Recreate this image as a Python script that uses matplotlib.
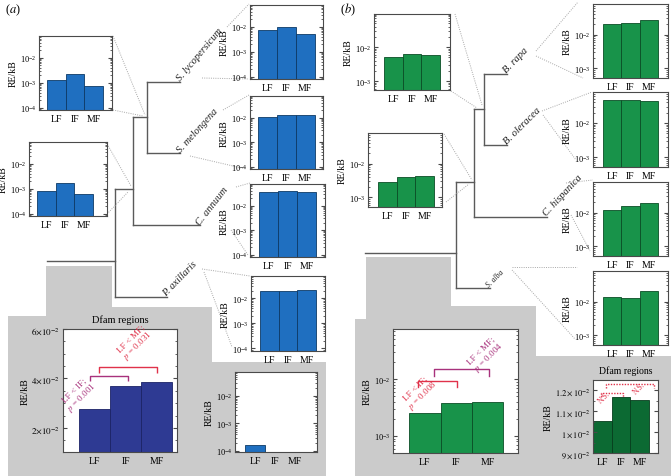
import numpy as np
import matplotlib.pyplot as plt
from matplotlib.ticker import LogLocator, NullFormatter, FixedLocator, MultipleLocator
from matplotlib.patches import Polygon

plt.rcParams['font.family'] = ['Liberation Serif', 'DejaVu Serif']
plt.rcParams['mathtext.fontset'] = 'stix'

# ───────── DATA ─────────
cats = ['LF', 'IF', 'MF']

# (a) Solanaceae, RE/kB per flanking class
a_node_top    = [1.3e-3, 2.3e-3, 7.6e-4]
a_node_mid    = [8.3e-4, 1.7e-3, 6.3e-4]
a_lyc         = [7.6e-3, 9.5e-3, 5.2e-3]
a_mel         = [1.1e-2, 1.3e-2, 1.3e-2]
a_ann         = [3.6e-2, 3.9e-2, 3.5e-2]
a_axi         = [1.9e-2, 1.85e-2, 2.1e-2]
a_root        = [1.66e-4, 0.0, 0.0]
a_dfam        = [2.77e-2, 3.70e-2, 3.86e-2]
a_dfam_ticks  = [0.02, 0.04, 0.06]
a_dfam_labels = [r'$2{\times}10^{-2}$', r'$4{\times}10^{-2}$', r'$6{\times}10^{-2}$']
a_species     = ['S. lycopersicum', 'S. melongena', 'C. annuum', 'P. axillaris']
a_cmp_pairs   = [(0, 1), (0, 2)]
a_cmp_levels  = [4.10e-2, 4.46e-2]
a_cmp_text    = ['LF < IF;\n$p$ = 0.001', 'LF < MF;\n$p$ = 0.031']

# (b) Brassicaceae
b_node_top    = [5.2e-3, 6.4e-3, 6.0e-3]
b_node_mid    = [2.8e-3, 3.9e-3, 4.2e-3]
b_rapa        = [2.1e-2, 2.2e-2, 2.6e-2]
b_oler        = [4.7e-2, 4.6e-2, 4.4e-2]
b_hisp        = [1.2e-2, 1.6e-2, 1.85e-2]
b_alba        = [1.4e-2, 1.3e-2, 2.05e-2]
b_root        = [2.5e-3, 3.8e-3, 4.0e-3]
b_dfam        = [1.052e-2, 1.167e-2, 1.152e-2]
b_dfam_ticks  = [0.009, 0.010, 0.011, 0.012]
b_dfam_labels = [r'$9\times10^{-2}$', r'$1\times10^{-2}$', r'$1.1\times10^{-2}$', r'$1.2\times10^{-2}$']
b_species     = ['B. rapa', 'B. oleracea', 'C. hispanica', 'S. alba']
b_cmp_pairs   = [(0, 1), (0, 2)]
b_cmp_levels  = [9.2e-3, 1.5e-2]
b_cmp_text    = ['LF < IF;\n$p$ = 0.008', 'LF < MF;\n$p$ = 0.004']
b_ns_pairs    = [(0, 1), (0, 2)]
b_ns_levels   = [1.19e-2, 1.233e-2]

# ───────── STYLE ─────────
BLUE, BLUE_EDGE   = '#1f6fc0', '#0e3a66'
NAVY              = '#2e3a93'
GREEN, GREEN_EDGE = '#18934a', '#0b4d26'
DKGREEN           = '#0c6a33'
RED, PURPLE       = '#e0324a', '#a8327c'
GRAY_BG           = '#cbcbcb'
TREE              = '#5a5a5a'
DOT               = '#a8a8a8'

W, H = 671, 477
fig = plt.figure(figsize=(W / 100, H / 100), dpi=100)

bg = fig.add_axes([0, 0, 1, 1])
bg.set_xlim(0, W)
bg.set_ylim(H, 0)
bg.axis('off')


def px_axes(x0, y0, x1, y1):
    return fig.add_axes([x0 / W, 1 - y1 / H, (x1 - x0) / W, (y1 - y0) / H])


def style_frame(ax):
    for s in ax.spines.values():
        s.set_color('#4a4a4a')
        s.set_linewidth(0.8)
    ax.tick_params(axis='x', length=0, labelsize=7, pad=3)
    ax.tick_params(axis='y', which='both', direction='in', right=True,
                   labelsize=6, pad=2, color='#4a4a4a')
    ax.tick_params(axis='y', which='major', length=3)
    ax.tick_params(axis='y', which='minor', length=1.5)
    ax.set_ylabel('RE/kB', fontsize=7, labelpad=1.5)


def log_inset(box, vals, color, edge, ylog, xlim):
    ax = px_axes(*box)
    ax.bar(range(3), vals, width=1.0, color=color, edgecolor=edge, linewidth=0.6)
    ax.set_yscale('log')
    ax.set_ylim(10 ** ylog[0], 10 ** ylog[1])
    ax.set_xlim(*xlim)
    ax.set_xticks(range(3), cats)
    ax.yaxis.set_major_locator(LogLocator(base=10, numticks=10))
    ax.yaxis.set_minor_locator(LogLocator(base=10, subs=np.arange(2, 10), numticks=10))
    ax.yaxis.set_minor_formatter(NullFormatter())
    style_frame(ax)
    return ax


def bracket(ax, x0, x1, y, leg, color, ls='-'):
    ax.plot([x0, x0, x1, x1], [y - leg, y, y, y - leg], color=color, lw=1.0, ls=ls,
            solid_capstyle='butt')


# ─── gray backdrops ───
bg.add_patch(Polygon([(46, 267), (112, 267), (112, 308), (212, 308), (212, 363), (326, 363),
                      (326, 477), (8, 477), (8, 317), (46, 317)],
                     closed=True, facecolor=GRAY_BG, edgecolor='none'))
bg.add_patch(Polygon([(366, 258), (451, 258), (451, 307), (536, 307), (536, 357), (671, 357),
                      (671, 477), (355, 477), (355, 320), (366, 320)],
                     closed=True, facecolor=GRAY_BG, edgecolor='none'))


# ─── trees ───
def clade(x, y_top, y_bot, end_top, end_bot):
    bg.plot([x, x], [y_top, y_bot], color=TREE, lw=1.0)
    bg.plot([x, end_top], [y_top, y_top], color=TREE, lw=1.0)
    bg.plot([x, end_bot], [y_bot, y_bot], color=TREE, lw=1.0)


bg.plot([47, 115], [262, 262], color=TREE, lw=1.0)
clade(115, 190, 298, 133, 167)
clade(133, 118, 226, 147, 200)
clade(147, 83, 154, 180, 180)

bg.plot([365, 456], [254, 254], color=TREE, lw=1.0)
clade(456, 183, 289, 474, 490)
clade(474, 110, 218, 484, 547)
clade(484, 75, 146, 507, 507)

# species labels
a_label_pos = [(182, 83, 50), (182, 155, 48), (202, 227, 52), (168, 298, 46)]
for name, (x, y, r) in zip(a_species, a_label_pos):
    bg.text(x, y, name, rotation=r, rotation_mode='anchor', ha='left', va='bottom',
            fontsize=7.5, style='italic', color='#222222')
b_label_pos = [(508, 75, 46, 7.5), (508, 146, 45, 7.5), (548, 218, 47, 7.5), (490, 289, 45, 5.5)]
for name, (x, y, r, fs) in zip(b_species, b_label_pos):
    bg.text(x, y, name, rotation=r, rotation_mode='anchor', ha='left', va='bottom',
            fontsize=fs, style='italic', color='#222222')

bg.text(5, 10, r'($a$)', fontsize=9, va='center')
bg.text(340, 10, r'($b$)', fontsize=9, va='center')

# dotted connectors from nodes / tips to the insets
connectors = [
    ((113, 37), (145, 116)), ((113, 111), (143, 117)),
    ((106, 143), (131, 187)), ((107, 215), (128, 193)),
    ((227, 28), (249, 5)), ((202, 79), (249, 80)),
    ((223, 111), (249, 96)), ((190, 157), (246, 170)),
    ((236, 188), (250, 184)), ((231, 231), (248, 256)),
    ((202, 270), (250, 277)), ((204, 273), (232, 348)),
    ((455, 15), (482, 106)), ((451, 92), (477, 109)),
    ((444, 135), (472, 181)), ((446, 203), (469, 185)),
    ((536, 52), (578, 3)), ((536, 57), (583, 79)),
    ((542, 112), (592, 93)), ((543, 116), (576, 161)),
    ((566, 184), (593, 181)), ((571, 216), (590, 252)),
    ((512, 268), (577, 268)), ((512, 271), (575, 340)),
]
for (x0, y0), (x1, y1) in connectors:
    bg.plot([x0, x1], [y0, y1], color=DOT, lw=0.7, ls=(0, (1, 1.3)))

# ─── (a) insets ───
a_xl = (-0.95, 2.95)
a_yl = (-4.1, -1.12)
log_inset((39, 37, 112, 111), a_node_top, BLUE, BLUE_EDGE, a_yl, (-0.93, 2.98))
log_inset((29, 143, 107, 217), a_node_mid, BLUE, BLUE_EDGE, a_yl, (-0.93, 3.25))
log_inset((250, 6, 323, 80), a_lyc, BLUE, BLUE_EDGE, a_yl, a_xl)
log_inset((250, 97, 323, 170), a_mel, BLUE, BLUE_EDGE, a_yl, a_xl)
log_inset((250, 185, 325, 258), a_ann, BLUE, BLUE_EDGE, a_yl, a_xl)
log_inset((251, 277, 325, 352), a_axi, BLUE, BLUE_EDGE, a_yl, a_xl)
log_inset((235, 373, 317, 453), a_root, BLUE, BLUE_EDGE, (-4.04, -1.13), (-1.0, 3.1))

ax = px_axes(63, 330, 177, 453)
ax.bar(range(3), a_dfam, width=1.0, color=NAVY, edgecolor='#1b2366', linewidth=0.6)
ax.set_xlim(-1.02, 2.66)
ax.set_ylim(0.0103, 0.06)
ax.set_xticks(range(3), cats)
ax.yaxis.set_major_locator(FixedLocator(a_dfam_ticks))
ax.set_yticklabels(a_dfam_labels)
ax.yaxis.set_minor_locator(MultipleLocator(0.005))
style_frame(ax)
ax.tick_params(axis='y', labelsize=6.5)
ax.set_title('Dfam regions', fontsize=7.5, pad=5)
a_cmp_colors = [PURPLE, RED]
a_cmp_offsets = [(-0.15, 0.08), (0.14, 0.02)]
a_cmp_textpos = [(-0.52, 0.0337), (1.31, 0.0547)]
for (i, j), lvl, txt, c, (o0, o1), (tx, ty) in zip(a_cmp_pairs, a_cmp_levels, a_cmp_text,
                                                   a_cmp_colors, a_cmp_offsets, a_cmp_textpos):
    bracket(ax, i + o0, j + o1, lvl, 0.0022, c)
    ax.text(tx, ty, txt, rotation=45, ha='center', va='center', color=c,
            fontsize=6.5, linespacing=1.0)

# ─── (b) insets ───
b_xl = (-1.03, 3.03)
b_yl = (-3.28, -1.1)
log_inset((374, 15, 450, 91), b_node_top, GREEN, GREEN_EDGE, (-3.26, -1.03), b_xl)
log_inset((368, 134, 442, 208), b_node_mid, GREEN, GREEN_EDGE, b_yl, (-1.03, 2.93))
log_inset((593, 5, 668, 79), b_rapa, GREEN, GREEN_EDGE, b_yl, b_xl)
log_inset((593, 93, 668, 168), b_oler, GREEN, GREEN_EDGE, b_yl, b_xl)
log_inset((593, 183, 668, 257), b_hisp, GREEN, GREEN_EDGE, b_yl, b_xl)
log_inset((593, 272, 668, 346), b_alba, GREEN, GREEN_EDGE, b_yl, b_xl)

ax = log_inset((393, 330, 518, 454), b_root, GREEN, GREEN_EDGE, (-3.3, -1.12), (-1.02, 2.98))
b_cmp_colors = [RED, PURPLE]
b_cmp_offsets = [(-0.22, 0.03), (0.29, 0.05)]
b_cmp_legs = [0.78, 0.75]
b_cmp_textpos = [(-0.16, 5.9e-3), (1.95, 2.75e-2)]
for (i, j), lvl, txt, c, (o0, o1), leg, (tx, ty) in zip(b_cmp_pairs, b_cmp_levels, b_cmp_text,
                                                        b_cmp_colors, b_cmp_offsets, b_cmp_legs,
                                                        b_cmp_textpos):
    ax.plot([i + o0, i + o0, j + o1, j + o1], [lvl * leg, lvl, lvl, lvl * leg], color=c, lw=1.0)
    ax.text(tx, ty, txt, rotation=45, ha='center', va='center', color=c,
            fontsize=6.5, linespacing=1.0)

ax = px_axes(593, 381, 658, 454)
ax.bar(range(3), b_dfam, width=1.0, color=DKGREEN, edgecolor='#073d1d', linewidth=0.6)
ax.set_xlim(-0.5, 2.97)
ax.set_ylim(0.009, 0.0125)
ax.set_xticks(range(3), cats)
ax.yaxis.set_major_locator(FixedLocator(b_dfam_ticks))
ax.set_yticklabels(b_dfam_labels)
ax.yaxis.set_minor_locator(MultipleLocator(0.0005))
style_frame(ax)
ax.set_title('Dfam regions', fontsize=7, pad=5)
b_ns_offsets = [(-0.07, 0.10), (0.19, 0.76)]
b_ns_textpos = [(0.08, 0.01168), (1.95, 0.01212)]
for (i, j), lvl, (o0, o1), (tx, ty) in zip(b_ns_pairs, b_ns_levels, b_ns_offsets, b_ns_textpos):
    bracket(ax, i + o0, j + o1, lvl, 0.00022, RED, ls=(0, (1, 1)))
    ax.text(tx, ty, 'N.S.', rotation=45, ha='center', va='center', color=RED, fontsize=5.5)

fig.savefig('out.png', dpi=100)
